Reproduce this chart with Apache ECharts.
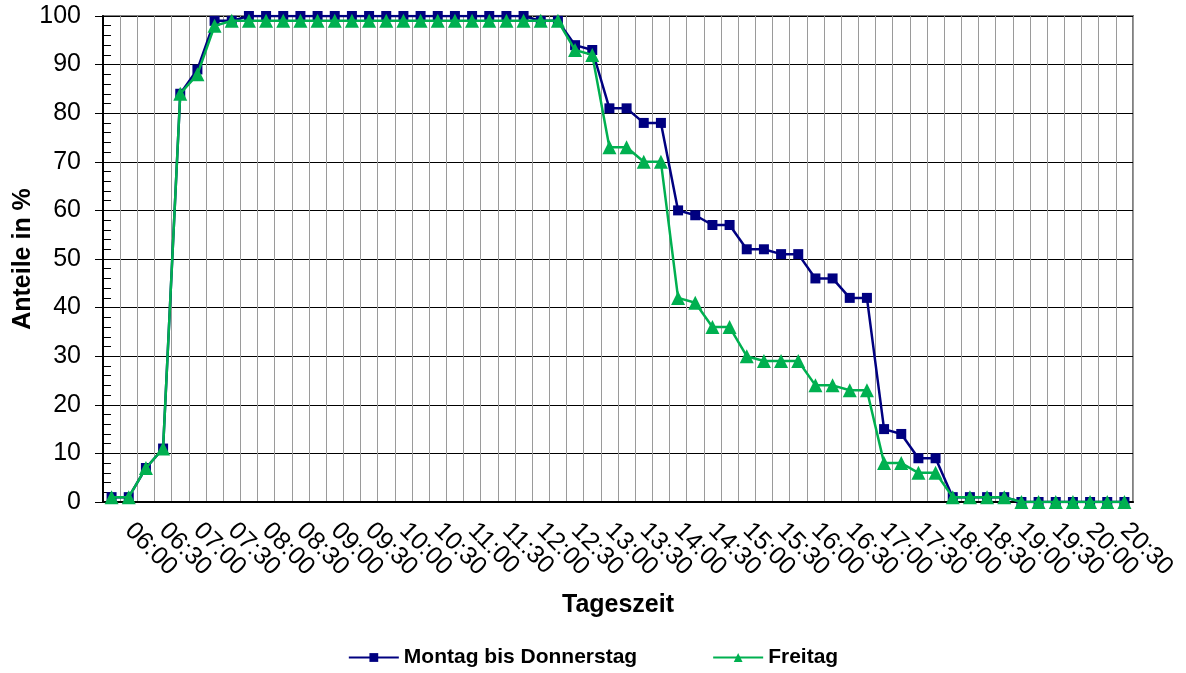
<!DOCTYPE html>
<html>
<head>
<meta charset="utf-8">
<script src="https://cdn.jsdelivr.net/npm/echarts@6/dist/echarts.min.js"></script>
<style>
  html, body { margin: 0; padding: 0; background: #fff; }
  #chart { width: 1186px; height: 673px; }
</style>
</head>
<body>
<div id="chart"></div>
<script>
var times = [
  '05:45', '06:00', '06:15', '06:30', '06:45', '07:00', '07:15', '07:30', '07:45', '08:00',
  '08:15', '08:30', '08:45', '09:00', '09:15', '09:30', '09:45', '10:00', '10:15', '10:30',
  '10:45', '11:00', '11:15', '11:30', '11:45', '12:00', '12:15', '12:30', '12:45', '13:00',
  '13:15', '13:30', '13:45', '14:00', '14:15', '14:30', '14:45', '15:00', '15:15', '15:30',
  '15:45', '16:00', '16:15', '16:30', '16:45', '17:00', '17:15', '17:30', '17:45', '18:00',
  '18:15', '18:30', '18:45', '19:00', '19:15', '19:30', '19:45', '20:00', '20:15', '20:30'
]

var montagBisDonnerstag = [
  1, 1, 7, 11, 84, 89, 99, 99, 100, 100,
  100, 100, 100, 100, 100, 100, 100, 100, 100, 100,
  100, 100, 100, 100, 100, 99, 99, 94, 93, 81,
  81, 78, 78, 60, 59, 57, 57, 52, 52, 51,
  51, 46, 46, 42, 42, 15, 14, 9, 9, 1,
  1, 1, 1, 0, 0, 0, 0, 0, 0, 0
]

var freitag = [
  1, 1, 7, 11, 84, 88, 98, 99, 99, 99,
  99, 99, 99, 99, 99, 99, 99, 99, 99, 99,
  99, 99, 99, 99, 99, 99, 99, 93, 92, 73,
  73, 70, 70, 42, 41, 36, 36, 30, 29, 29,
  29, 24, 24, 23, 23, 8, 8, 6, 6, 1,
  1, 1, 1, 0, 0, 0, 0, 0, 0, 0
]

var font = 'Liberation Sans, Arial, sans-serif'

var chart = echarts.init(document.getElementById('chart'))

chart.setOption({
  animation: false,
  backgroundColor: '#fff',
  textStyle: { fontFamily: font },
  grid: {
    left: 103,
    right: 53,
    top: 16,
    bottom: 171,
    show: true,
    borderColor: '#808080',
    borderWidth: 2,
    outerBoundsMode: 'none'
  },
  legend: {
    top: 642,
    left: 'center',
    itemGap: 75,
    itemWidth: 50,
    itemHeight: 11,
    textStyle: { fontFamily: font, fontSize: 21, fontWeight: 'bold', color: '#000' },
    data: ['Montag bis Donnerstag', 'Freitag']
  },
  xAxis: {
    type: 'category',
    data: times,
    boundaryGap: true,
    name: 'Tageszeit',
    nameLocation: 'middle',
    nameGap: 91,
    nameMoveOverlap: false,
    nameTextStyle: { fontFamily: font, fontSize: 25, fontWeight: 'bold', color: '#000' },
    axisLine: { lineStyle: { color: '#000', width: 2 } },
    axisTick: { interval: 0, length: 8, lineStyle: { color: '#000' } },
    splitLine: { show: true, interval: 0, lineStyle: { color: '#9a9a9a', width: 1 } },
    axisLabel: {
      // every half hour gets a label, the quarter hours stay empty
      interval: 0,
      formatter: function (value, idx) { return idx % 2 === 1 ? value : '' },
      hideOverlap: false,
      rotate: -45,
      margin: 25,
      fontFamily: font,
      fontSize: 25,
      color: '#000'
    }
  },
  yAxis: [
    {
      type: 'value',
      position: 'left',
      min: 0,
      max: 100,
      interval: 10,
      name: 'Anteile in %',
      nameLocation: 'middle',
      nameGap: 67,
      nameMoveOverlap: false,
      nameTextStyle: { fontFamily: font, fontSize: 25, fontWeight: 'bold', color: '#000' },
      axisLine: { show: true, lineStyle: { color: '#000', width: 2 } },
      axisTick: { show: true, length: 8, lineStyle: { color: '#000' } },
      splitLine: { show: true, lineStyle: { color: '#000', width: 1 } },
      axisLabel: { margin: 22, fontFamily: font, fontSize: 25, color: '#000' }
    },
    {
      // only draws the small inside ticks every 2 units
      type: 'value',
      position: 'left',
      min: 0,
      max: 100,
      interval: 10,
      axisLine: { show: false },
      axisTick: { show: false, inside: true },
      axisLabel: { show: false },
      splitLine: { show: false },
      minorTick: { show: true, splitNumber: 5, length: 8, lineStyle: { color: '#000' } }
    }
  ],
  series: [
    {
      name: 'Montag bis Donnerstag',
      type: 'line',
      data: montagBisDonnerstag,
      symbol: 'rect',
      symbolSize: 10,
      showAllSymbol: true,
      color: '#000080',
      lineStyle: { width: 2.5, color: '#000080' },
      itemStyle: { color: '#000080' },
      z: 2
    },
    {
      name: 'Freitag',
      type: 'line',
      data: freitag,
      symbol: 'triangle',
      symbolSize: 14,
      showAllSymbol: true,
      color: '#00B050',
      lineStyle: { width: 2.5, color: '#00B050' },
      itemStyle: { color: '#00B050' },
      z: 3
    }
  ]
})
</script>
</body>
</html>
